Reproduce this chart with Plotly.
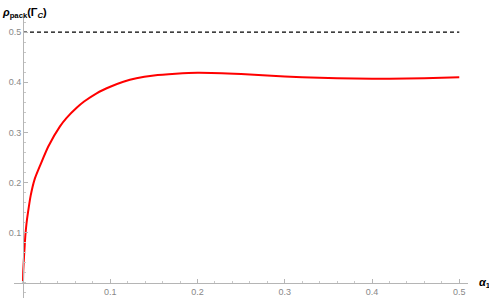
import plotly.graph_objects as go

alpha = [0, 0.0003, 0.0008, 0.0015, 0.0027, 0.004, 0.0057, 0.0088, 0.0134, 0.0203, 0.029,
         0.0424, 0.05, 0.0615, 0.07, 0.0844, 0.1, 0.115, 0.13, 0.15, 0.175, 0.2, 0.25,
         0.3, 0.34, 0.38, 0.42, 0.46, 0.5]
rho = [0, 0.024, 0.041, 0.062, 0.094, 0.118, 0.14, 0.174, 0.207, 0.237, 0.272,
       0.312, 0.329, 0.349, 0.3615, 0.378, 0.391, 0.401, 0.408, 0.4135, 0.417, 0.419, 0.4165,
       0.4115, 0.409, 0.4075, 0.407, 0.4078, 0.410]
ref_x = [0, 0.5]
ref_y = [0.5, 0.5]

xr = [-0.0103, 0.51]
yr = [-0.03, 0.53]
xtick = [0.1, 0.2, 0.3, 0.4, 0.5]
ytick = [0.1, 0.2, 0.3, 0.4, 0.5]

fig = go.Figure()
fig.add_trace(go.Scatter(x=ref_x, y=ref_y, mode="lines",
                         line=dict(color="black", width=1.2, dash="4px,3px"),
                         hoverinfo="skip"))
fig.add_trace(go.Scatter(x=alpha, y=rho, mode="lines",
                         line=dict(color="#ff0000", width=2, shape="spline", smoothing=0.6),
                         hoverinfo="skip"))

tickfont = dict(family="Liberation Sans, Arial, sans-serif", size=9, color="#888888")
fig.update_layout(
    width=489, height=300,
    margin=dict(l=14, r=21, t=17, b=2, autoexpand=False),
    paper_bgcolor="white", plot_bgcolor="white",
    showlegend=False,
    xaxis=dict(range=xr, domain=[0, 1], anchor="free", automargin=False,
               position=(0 - yr[0]) / (yr[1] - yr[0]),
               showgrid=False, zeroline=False, showline=True, linecolor="#b5b5b5", linewidth=1,
               tickvals=xtick, ticktext=[str(v) for v in xtick],
               ticks="inside", ticklen=4, tickcolor="#b5b5b5", tickwidth=1,
               minor=dict(dtick=0.02, ticks="inside", ticklen=2, tickcolor="#c8c8c8", tick0=0),
               tickfont=tickfont),
    yaxis=dict(range=yr, domain=[0, 1], anchor="free", automargin=False,
               position=(0 - xr[0]) / (xr[1] - xr[0]),
               showgrid=False, zeroline=False, showline=True, linecolor="#b5b5b5", linewidth=1,
               tickvals=ytick, ticktext=[str(v) for v in ytick],
               ticks="inside", ticklen=4, tickcolor="#b5b5b5", tickwidth=1,
               minor=dict(dtick=0.02, ticks="inside", ticklen=2, tickcolor="#c8c8c8", tick0=0),
               tickfont=tickfont),
)
fig.add_annotation(xref="paper", yref="paper", x=-14/454, y=1 + 4/281,
                   xanchor="left", yanchor="middle", showarrow=False,
                   text="<b><i>ρ</i><sub>pack</sub>(Γ<sub><i>C</i></sub>)</b>",
                   font=dict(family="Liberation Sans, Arial, sans-serif", size=11, color="black"))
fig.add_annotation(xref="paper", yref="y", x=1 + 9/454, y=0,
                   xanchor="left", yanchor="middle", showarrow=False,
                   text="<b><i>α</i><sub>1</sub></b>",
                   font=dict(family="Liberation Sans, Arial, sans-serif", size=11, color="black"))
fig.write_html("out.html", config={"displayModeBar": False},
               post_script="document.body.style.margin='0';")
